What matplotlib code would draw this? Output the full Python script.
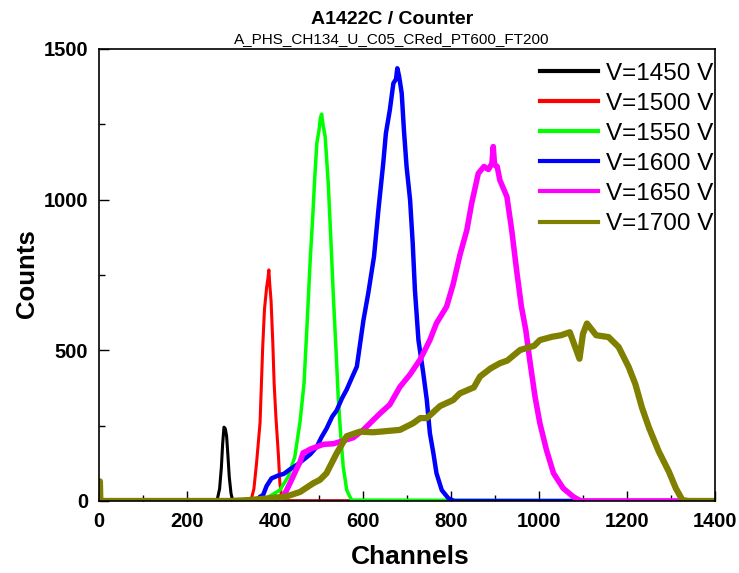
import matplotlib
matplotlib.use('Agg')
import matplotlib.pyplot as plt
from matplotlib.ticker import MultipleLocator

# Pulse height spectra (channel, counts)
ch_1450 = [0, 268, 274, 278, 281, 284, 287, 290, 293, 296, 300, 304, 1400]
cnt_1450 = [0, 0, 40, 110, 190, 245, 240, 215, 150, 80, 25, 0, 0]

ch_1500 = [0, 345, 352, 358, 366, 372, 376, 381, 384, 386, 388, 391, 395, 398, 402, 408, 411, 416, 1400]
cnt_1500 = [0, 0, 40, 125, 260, 510, 635, 710, 740, 767, 720, 665, 525, 390, 280, 145, 60, 0, 0]

ch_1550 = [0, 340, 381, 411, 430, 445, 457, 466, 473, 480, 486, 490, 495, 500, 503, 506, 509,
           514, 521, 527, 533, 539, 544, 549, 555, 563, 574, 1400]
cnt_1550 = [0, 0, 10, 36, 81, 147, 264, 391, 590, 800, 950, 1065, 1187, 1230, 1270, 1284, 1250,
            1209, 1054, 866, 667, 491, 335, 225, 114, 36, 3, 0]

ch_1600 = [0, 355, 366, 373, 381, 392, 408, 420, 434, 450, 464, 480, 495, 505, 517, 530, 540, 552,
           563, 575, 586, 601, 612, 625, 635, 646, 652, 661, 669, 675, 678, 682, 688, 693, 699, 707,
           713, 718, 726, 737, 745, 752, 760, 767, 779, 794, 807, 1400]
cnt_1600 = [0, 0, 14, 20, 50, 75, 85, 90, 105, 120, 136, 155, 180, 210, 240, 280, 300, 340,
            370, 410, 446, 600, 690, 811, 966, 1121, 1220, 1298, 1386, 1400, 1436, 1410, 1353, 1231, 1110, 999,
            855, 700, 534, 424, 335, 225, 158, 92, 36, 9, 0, 0]

ch_1650 = [0, 410, 419, 434, 447, 457, 464, 472, 480, 495, 510, 533, 555, 578, 600, 616, 639, 661,
           684, 707, 730, 752, 767, 790, 805, 820, 836, 847, 862, 875, 885, 893, 896, 899, 905, 911, 927, 938,
           949, 960, 970, 980, 991, 1002, 1017, 1033, 1055, 1078, 1095, 1400]
cnt_1650 = [0, 0, 14, 59, 100, 130, 160, 165, 172, 180, 188, 190, 200, 210, 235, 258, 291, 320,
            379, 420, 470, 534, 590, 645, 720, 815, 899, 988, 1087, 1110, 1100, 1120, 1176, 1115, 1110, 1065, 1010, 899,
            767, 645, 567, 457, 346, 258, 169, 92, 42, 14, 0, 0]

ch_1700 = [0, 2, 3, 300, 340, 380, 426, 457, 487, 502, 517, 540, 563, 593, 623, 654, 684, 714,
           730, 745, 775, 805, 820, 852, 866, 890, 911, 928, 957, 989, 1002, 1030, 1050, 1070, 1092,
           1100, 1109, 1130, 1158, 1181, 1204, 1219, 1234, 1250, 1272, 1295, 1311, 1326, 1340, 1400]
cnt_1700 = [65, 65, 0, 0, 3, 8, 15, 30, 59, 70, 92, 158, 215, 230, 228, 232, 236, 258,
            275, 275, 315, 335, 357, 377, 413, 440, 457, 466, 501, 515, 534, 545, 550, 560, 472,
            555, 589, 550, 544, 511, 444, 388, 310, 243, 165, 98, 42, 3, 0, 0]

labels = ['V=1450 V', 'V=1500 V', 'V=1550 V', 'V=1600 V', 'V=1650 V', 'V=1700 V']
colors = ['black', '#ff0000', '#00ff00', '#0000ff', '#ff00ff', '#808000']
# noisy spectra look like bands, so the broader ones get thicker lines
widths = [2.2, 2.2, 2.5, 3.2, 4, 4.5]

plt.rcParams['font.family'] = ['Liberation Sans', 'DejaVu Sans']

fig = plt.figure(figsize=(7.39, 5.73), dpi=100)
ax = fig.add_axes([0.134, 0.1257, 0.8335, 0.7888])

series = [(ch_1450, cnt_1450), (ch_1500, cnt_1500), (ch_1550, cnt_1550),
          (ch_1600, cnt_1600), (ch_1650, cnt_1650), (ch_1700, cnt_1700)]
for (x, y), lab, c, w in zip(series, labels, colors, widths):
    ax.plot(x, y, color=c, lw=w, label=lab)

ax.set_xlim(0, 1400)
ax.set_ylim(0, 1500)
ax.xaxis.set_major_locator(MultipleLocator(200))
ax.xaxis.set_minor_locator(MultipleLocator(100))
ax.yaxis.set_major_locator(MultipleLocator(500))
ax.yaxis.set_minor_locator(MultipleLocator(250))
ax.tick_params(which='both', direction='in', top=False, right=False)
ax.tick_params(which='major', length=7, width=1, labelsize=14.5, pad=8)
ax.tick_params(which='minor', length=4, width=1)
for lbl in ax.get_xticklabels() + ax.get_yticklabels():
    lbl.set_fontweight('bold')
for sp in ax.spines.values():
    sp.set_linewidth(1.2)
    sp.set_zorder(3)

# axis titles placed in figure pixels to match the reference
fig.text(410 / 739, 1 - 557 / 573, 'Channels', ha='center', va='center', fontsize=19, fontweight='bold')
fig.text(27.5 / 739, 1 - 274 / 573, 'Counts', ha='center', va='center', rotation=90,
         fontsize=18.5, fontweight='bold')

fig.text(392 / 739, 1 - 19 / 573, 'A1422C / Counter', ha='center', va='center', fontsize=14, fontweight='bold')
fig.text(392 / 739, 1 - 39 / 573, 'A_PHS_CH134_U_C05_CRed_PT600_FT200', ha='center', va='center', fontsize=11)

leg = ax.legend(loc='upper right', frameon=False, prop={'size': 17.5},
                handlelength=2.4, handletextpad=0.3, labelspacing=0.33,
                borderaxespad=0.0, borderpad=0.2,
                bbox_to_anchor=(1.0 + 3 / 616, 1.0 - 9 / 452))
for h in leg.get_lines():
    h.set_linewidth(3)

fig.savefig('out.png', dpi=100)
